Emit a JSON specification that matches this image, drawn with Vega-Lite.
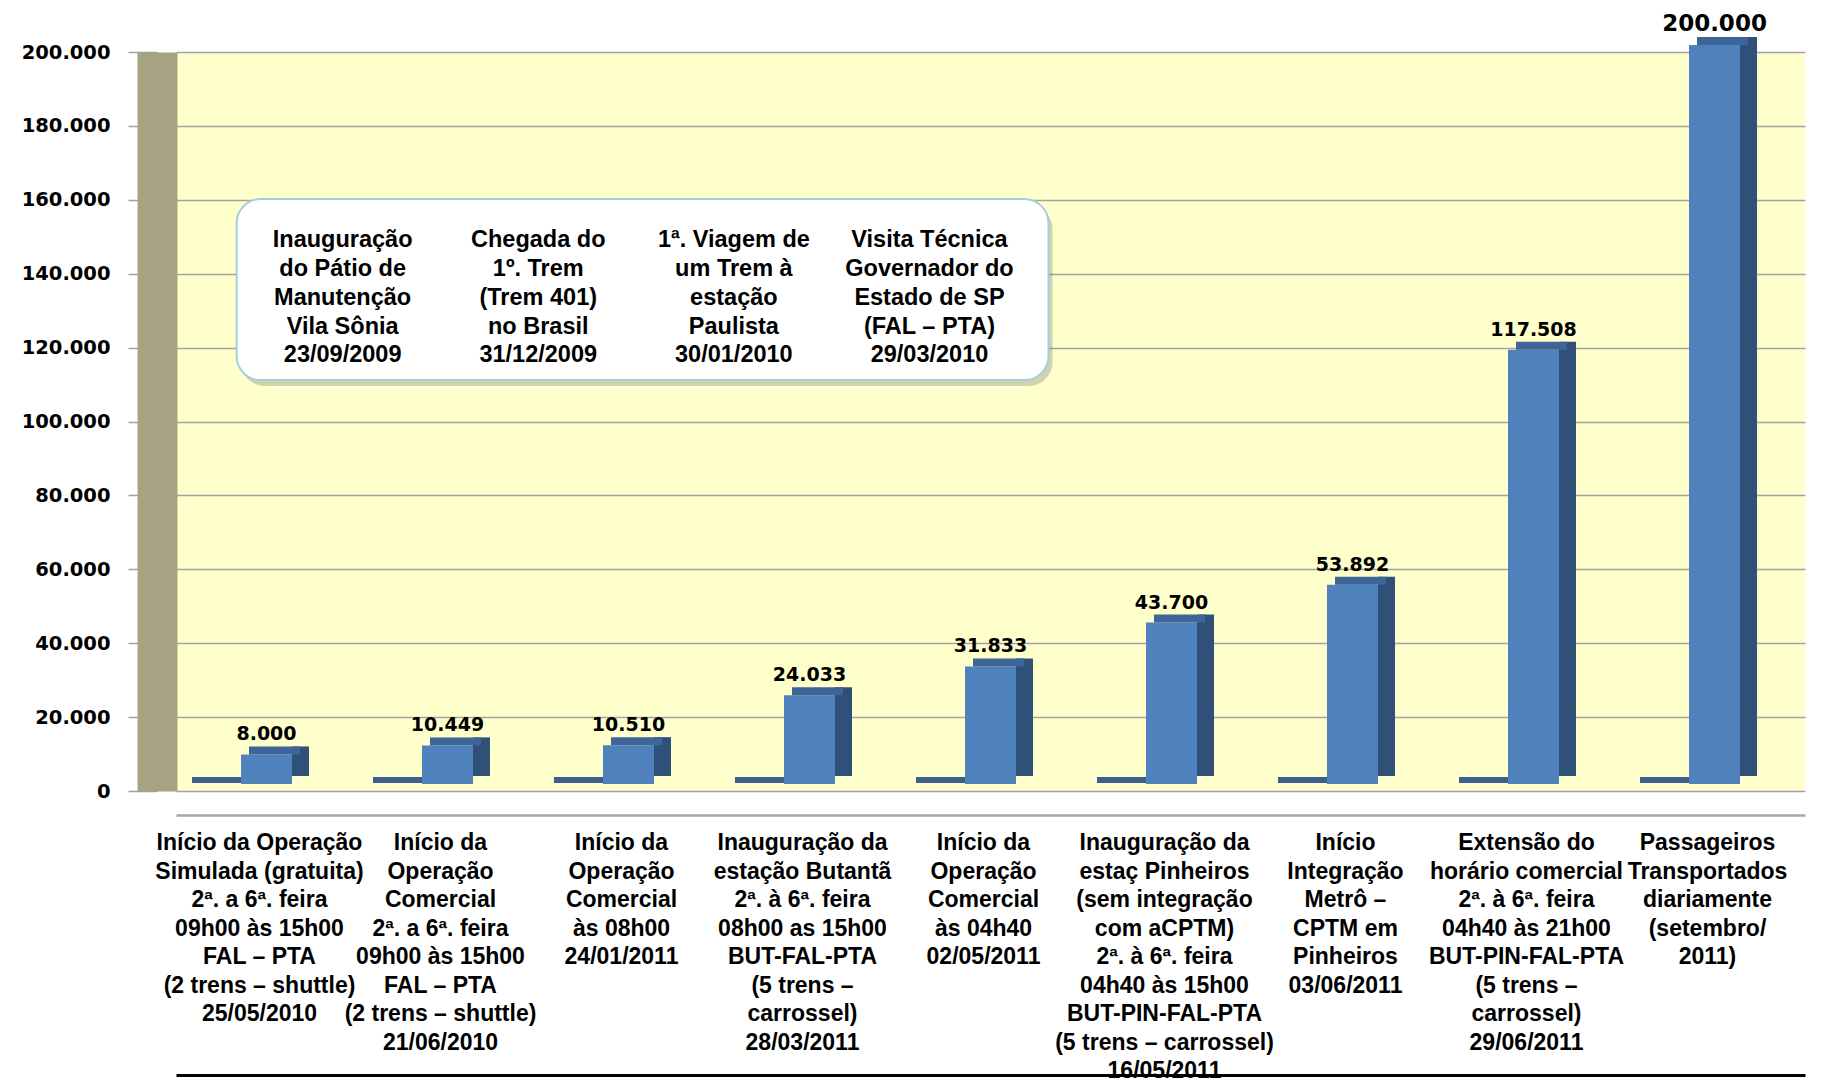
{
  "$schema": "https://vega.github.io/schema/vega-lite/v6.json",
  "autosize": {"type": "none"},
  "padding": {"left": 176, "top": 52, "right": 30, "bottom": 291},
  "width": 1629,
  "height": 739,
  "background": "white",
  "config": {
    "locale": {"number": {"decimal": ",", "thousands": ".", "grouping": [3], "currency": ["R$ ", ""]}},
    "view": {"fill": "#FFFFCC", "stroke": null},
    "font": "Liberation Sans",
    "axis": {"labelOverlap": false}
  },
  "datasets": {
    "passageiros": [
      {"evento": "Início da Operação\nSimulada (gratuita)\n2ª. a 6ª. feira\n09h00 às 15h00\nFAL – PTA\n(2 trens – shuttle)\n25/05/2010", "valor": 8000},
      {"evento": "Início da\nOperação\nComercial\n2ª. a 6ª. feira\n09h00 às 15h00\nFAL – PTA\n(2 trens – shuttle)\n21/06/2010", "valor": 10449},
      {"evento": "Início da\nOperação\nComercial\nàs 08h00\n24/01/2011", "valor": 10510},
      {"evento": "Inauguração da\nestação Butantã\n2ª. à 6ª. feira\n08h00 as 15h00\nBUT-FAL-PTA\n(5 trens –\ncarrossel)\n28/03/2011", "valor": 24033},
      {"evento": "Início da\nOperação\nComercial\nàs 04h40\n02/05/2011", "valor": 31833},
      {"evento": "Inauguração da\nestaç Pinheiros\n(sem integração\ncom  aCPTM)\n2ª. à 6ª. feira\n04h40 às 15h00\nBUT-PIN-FAL-PTA\n(5 trens – carrossel)\n16/05/2011", "valor": 43700},
      {"evento": "Início\nIntegração\nMetrô –\nCPTM em\nPinheiros\n03/06/2011", "valor": 53892},
      {"evento": "Extensão do\nhorário comercial\n2ª. à 6ª. feira\n04h40 às 21h00\nBUT-PIN-FAL-PTA\n(5 trens –\ncarrossel)\n29/06/2011", "valor": 117508},
      {"evento": "Passageiros\nTransportados\ndiariamente\n(setembro/\n2011)", "valor": 200000}
    ],
    "marcos": [
      {"coluna": 1, "texto": "Inauguração\ndo Pátio de\nManutenção\nVila Sônia\n23/09/2009"},
      {"coluna": 2, "texto": "Chegada do\n1º. Trem\n(Trem 401)\nno Brasil\n31/12/2009"},
      {"coluna": 3, "texto": "1ª. Viagem de\num Trem à\nestação\nPaulista\n30/01/2010"},
      {"coluna": 4, "texto": "Visita Técnica\nGovernador do\nEstado de SP\n(FAL – PTA)\n29/03/2010"}
    ]
  },
  "layer": [
    {
      "data": {"name": "passageiros"},
      "encoding": {
        "x": {
          "field": "evento", "type": "nominal", "sort": null,
          "scale": {"paddingInner": 0, "paddingOuter": 0},
          "axis": {
            "title": null,
            "labelExpr": "split(datum.label, '\\n')",
            "labelFont": "Liberation Sans",
            "labelFontSize": 23,
            "labelFontWeight": "bold",
            "labelColor": "black",
            "labelLineHeight": 28.5,
            "labelAngle": 0,
            "labelBaseline": "top",
            "labelPadding": 16.5,
            "labelOffset": -7,
            "labelLimit": 0,
            "labelOverlap": false,
            "ticks": false,
            "tickSize": 0,
            "domainColor": "#A6A6A6",
            "domainWidth": 2.5,
            "offset": 24
          }
        },
        "y": {
          "field": "valor", "type": "quantitative",
          "scale": {"domain": [0, 200000], "nice": false},
          "axis": {
            "title": null,
            "values": [0, 20000, 40000, 60000, 80000, 100000, 120000, 140000, 160000, 180000, 200000],
            "format": ",d",
            "labelFont": "DejaVu Sans",
            "labelFontSize": 19.5,
            "labelFontWeight": "bold",
            "labelColor": "black",
            "labelPadding": 18,
            "labelFlush": false,
            "tickSize": 29,
            "tickColor": "#A0A0A0",
            "tickWidth": 1.5,
            "domainColor": "#A6A382",
            "domainWidth": 40,
            "offset": 19,
            "grid": true,
            "gridColor": "#A3A3A3",
            "gridWidth": 1.5
          }
        }
      },
      "layer": [
        {
          "mark": {"type": "tick", "color": "#3B5F8F", "size": 49, "thickness": 6, "xOffset": -50, "yOffset": -11, "opacity": 1},
          "encoding": {"y": {"datum": 0, "type": "quantitative"}}
        },
        {
          "mark": {"type": "bar", "width": 17, "xOffset": 34, "yOffset": -15, "y2Offset": -11, "color": "#2F5078"}
        },
        {
          "mark": {"type": "bar", "width": 51, "yOffset": -7, "y2Offset": -7, "color": "#4F81BD"}
        },
        {
          "mark": {"type": "tick", "size": 51, "thickness": 8, "xOffset": 8, "yOffset": -11, "color": "#3D6597", "opacity": 1}
        },
        {
          "mark": {"type": "text", "font": "DejaVu Sans", "fontWeight": "bold", "dy": -21, "baseline": "alphabetic", "align": "center", "color": "black"},
          "encoding": {
            "text": {"field": "valor", "type": "quantitative", "format": ",d"},
            "size": {"condition": {"test": "datum.valor >= 200000", "value": 23}, "value": 19}
          }
        }
      ]
    },
    {
      "data": {"name": "marcos"},
      "encoding": {
        "x": {
          "field": "coluna", "type": "quantitative",
          "scale": {"domain": [0.148, 8.476], "nice": false, "zero": false},
          "axis": {"orient": "bottom", "offset": 284, "domainColor": "black", "domainWidth": 3, "ticks": false, "labels": false, "grid": false, "title": null}
        }
      },
      "layer": [
        {
          "mark": {"type": "rect", "cornerRadius": 24, "fill": "#7F7F7F", "opacity": 0.35, "xOffset": -102, "x2Offset": 123, "yOffset": 6, "y2Offset": 6},
          "encoding": {
            "x": {"aggregate": "min", "field": "coluna", "type": "quantitative"},
            "x2": {"aggregate": "max", "field": "coluna"},
            "y": {"datum": 160200, "type": "quantitative"},
            "y2": {"datum": 111200, "type": "quantitative"}
          }
        },
        {
          "mark": {"type": "rect", "cornerRadius": 24, "fill": "white", "stroke": "#A3CFDD", "strokeWidth": 2, "xOffset": -106, "x2Offset": 119},
          "encoding": {
            "x": {"aggregate": "min", "field": "coluna", "type": "quantitative"},
            "x2": {"aggregate": "max", "field": "coluna"},
            "y": {"datum": 160200, "type": "quantitative"},
            "y2": {"datum": 111200, "type": "quantitative"}
          }
        },
        {
          "mark": {"type": "text", "font": "Liberation Sans", "fontWeight": "bold", "fontSize": 23.5, "lineHeight": 28.7, "lineBreak": "\n", "align": "center", "baseline": "middle", "color": "black"},
          "encoding": {
            "y": {"datum": 149000, "type": "quantitative"},
            "text": {"field": "texto", "type": "nominal"}
          }
        }
      ]
    }
  ],
  "resolve": {"scale": {"x": "independent"}, "axis": {"x": "independent"}}
}
